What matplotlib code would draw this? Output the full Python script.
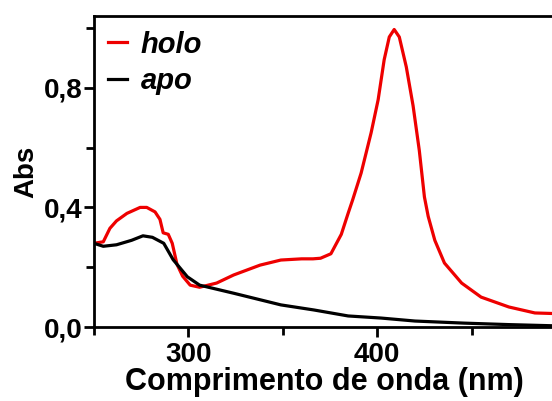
import matplotlib.pyplot as plt
from matplotlib.ticker import MultipleLocator

# UV-vis spectra
holo_wl = [250, 255, 258.5, 262, 267.5, 274.5, 278, 282.4, 285, 286.7, 289.4,
           291.5, 294, 297, 301, 306, 315, 324, 338, 349, 360, 366, 370, 375.5,
           381, 384.6, 387, 391.5, 396.8, 400.5, 403.7, 406.4, 409, 411.7,
           415.4, 419, 422.3, 425, 427, 430.5, 435.6, 444.7, 455, 469.7,
           483.5, 494]
holo_abs = [0.28, 0.285, 0.33, 0.355, 0.38, 0.40, 0.40, 0.385, 0.36, 0.315, 0.31,
            0.28, 0.21, 0.17, 0.14, 0.133, 0.147, 0.174, 0.207, 0.224, 0.228,
            0.228, 0.23, 0.245, 0.31, 0.38, 0.425, 0.515, 0.65, 0.76, 0.894,
            0.97, 0.995, 0.97, 0.87, 0.74, 0.59, 0.435, 0.37, 0.29, 0.214,
            0.147, 0.10, 0.067, 0.047, 0.045]

apo_wl = [250, 255, 262, 270, 276, 281, 287, 292, 299.5, 306, 324, 349, 366.5,
          384.6, 402, 420, 446, 470, 494]
apo_abs = [0.28, 0.27, 0.275, 0.29, 0.305, 0.30, 0.28, 0.225, 0.168, 0.14, 0.113,
           0.074, 0.057, 0.037, 0.030, 0.02, 0.013, 0.008, 0.004]

plt.rcParams['font.family'] = ['Liberation Sans', 'DejaVu Sans']
plt.rcParams['font.weight'] = 'bold'

fig = plt.figure(figsize=(5.52, 4.01), dpi=100)
ax = fig.add_axes([0.170, 0.1845, 0.835, 0.7755])

ax.plot(holo_wl, holo_abs, color='#ee0000', lw=2.3, label='holo')
ax.plot(apo_wl, apo_abs, color='black', lw=2.3, label='apo')

ax.set_xlim(250, 494)
ax.set_ylim(0, 1.04)
ax.xaxis.set_major_locator(MultipleLocator(100))
ax.xaxis.set_minor_locator(MultipleLocator(50))
ax.yaxis.set_major_locator(MultipleLocator(0.4))
ax.yaxis.set_minor_locator(MultipleLocator(0.2))
ax.set_yticks([0.0, 0.4, 0.8])
ax.set_yticklabels(['0,0', '0,4', '0,8'])

for s in ['left', 'bottom', 'top']:
    ax.spines[s].set_linewidth(2)
ax.spines['right'].set_visible(False)
ax.tick_params(which='both', direction='out', width=2, labelsize=20)
ax.tick_params(which='major', length=7)
ax.tick_params(which='minor', length=6)
ax.tick_params(axis='x', pad=4)
ax.tick_params(axis='y', pad=1)

ax.set_xlabel('Comprimento de onda (nm)', fontsize=22, fontweight='bold', labelpad=-1)
ax.set_ylabel('Abs', fontsize=20, fontweight='bold', labelpad=3)

leg = ax.legend(loc='upper left', frameon=False, handlelength=0.65,
                handletextpad=0.45, borderaxespad=0.1, labelspacing=0.3,
                prop={'size': 21, 'weight': 'bold', 'style': 'italic'})

fig.savefig('out.png', dpi=100)
